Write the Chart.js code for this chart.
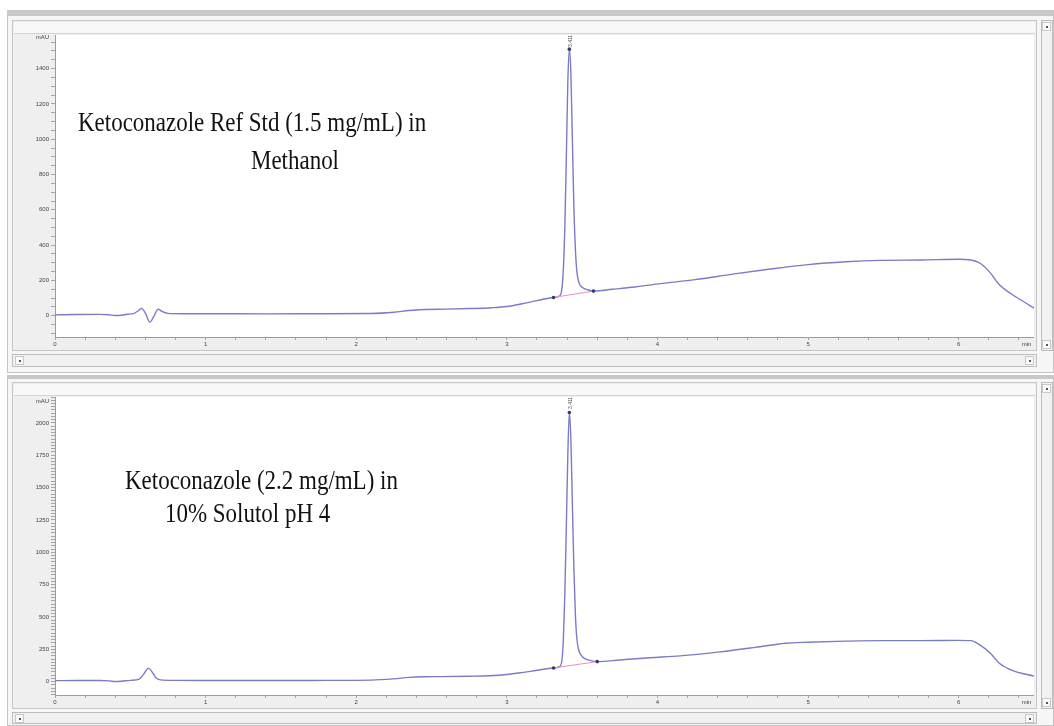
<!DOCTYPE html>
<html>
<head>
<meta charset="utf-8">
<title>Ketoconazole chromatograms</title>
<script src="https://cdn.jsdelivr.net/npm/chart.js@4.4.0/dist/chart.umd.min.js"></script>
<style>
  body { margin: 0; width: 1054px; height: 726px; background: #fff; position: relative; overflow: hidden; }
  .box { position: absolute; box-sizing: border-box; }
  .outer { border: 1px solid #c4c4c4; background: #f6f6f6; }
  .inner { border: 1px solid #c6c6c6; background: #efefef; }
  .header { background: #f8f8f8; border-bottom: 1px solid #d4d4d4; }
  .scroll { border: 1px solid #bdbdbd; background: #f1f1f1; }
  .btn { position: absolute; width: 9px; height: 9px; border: 1px solid #c8c8c8; background: #fafafa; box-sizing: border-box; }
  .btn::after { content: ''; position: absolute; left: 3px; top: 3px; width: 2px; height: 2px; background: #555; }
  .plot { position: absolute; }
  .plot canvas { display: block; }
  .label { position: absolute; font-family: 'Liberation Serif', 'Times New Roman', serif; font-size: 28px; line-height: 28px; color: #111; white-space: nowrap; transform: scaleX(0.82); transform-origin: left top; }
  .rt { position: absolute; font-family: 'Liberation Sans', Arial, sans-serif; font-size: 5px; color: #555; transform: rotate(-90deg); transform-origin: left top; white-space: nowrap; }
</style>
</head>
<body>

<!-- panneau du haut -->
<div class="box outer" style="left:7px; top:10px; width:1047px; height:363px; border-top:6px solid #c8c8c8;"></div>
<div class="box inner" style="left:12px; top:20px; width:1025px; height:331px;"></div>
<div class="box header" style="left:14px; top:22px; width:1021px; height:12px;"></div>
<div class="box scroll" style="left:1041px; top:20px; width:12px; height:331px;">
  <div class="btn" style="left:0px; top:1px;"></div>
  <div class="btn" style="left:0px; top:319px;"></div>
</div>
<div class="box scroll" style="left:12px; top:354px; width:1025px; height:13px;">
  <div class="btn" style="left:2px; top:1px;"></div>
  <div class="btn" style="left:1012px; top:1px;"></div>
</div>
<div class="plot" style="left:15px; top:35px;"><canvas id="chartTop" width="1019" height="313"></canvas></div>

<!-- panneau du bas -->
<div class="box outer" style="left:7px; top:375px; width:1047px; height:351px; border-top:4px solid #c8c8c8;"></div>
<div class="box inner" style="left:12px; top:382px; width:1025px; height:327px;"></div>
<div class="box header" style="left:14px; top:384px; width:1021px; height:12px;"></div>
<div class="box scroll" style="left:1041px; top:382px; width:12px; height:327px;">
  <div class="btn" style="left:0px; top:1px;"></div>
  <div class="btn" style="left:0px; top:315px;"></div>
</div>
<div class="box scroll" style="left:12px; top:712px; width:1025px; height:12px;">
  <div class="btn" style="left:2px; top:1px;"></div>
  <div class="btn" style="left:1012px; top:1px;"></div>
</div>
<div class="plot" style="left:15px; top:397px;"><canvas id="chartBottom" width="1019" height="310"></canvas></div>

<!-- textes -->
<div class="label" style="left:78px; top:108px;">Ketoconazole Ref Std (1.5 mg/mL) in</div>
<div class="label" style="left:251px; top:146px;">Methanol</div>
<div class="label" style="left:125px; top:466px;">Ketoconazole (2.2 mg/mL) in</div>
<div class="label" style="left:165px; top:499px;">10% Solutol pH 4</div>
<div class="rt" style="left:567px; top:47px;">3.411</div>
<div class="rt" style="left:567px; top:409px;">3.411</div>

<script>
// Chromatogramme 1 : étalon de référence dans le méthanol (min, mAU)
const timeTop = [0.00, 0.15, 0.30, 0.36, 0.40, 0.44, 0.48, 0.52, 0.555, 0.575, 0.60, 0.63, 0.655, 0.685, 0.71, 0.75, 0.85,
  1.00, 1.40, 1.80, 2.10, 2.25, 2.35, 2.45, 2.60, 2.75, 2.90, 3.00, 3.10, 3.20, 3.31, 3.35,
  3.365, 3.375, 3.385, 3.395, 3.405, 3.415, 3.425, 3.435, 3.445, 3.455, 3.465, 3.48, 3.50, 3.54, 3.575,
  3.70, 3.85, 4.02, 4.25, 4.50, 4.75, 5.00, 5.25, 5.48, 5.75, 6.00, 6.08, 6.14, 6.21, 6.27, 6.34, 6.41, 6.50];
const signalTop = [5, 7, 8, 6, 2, 3, 9, 12, 30, 42, 15, -36, -5, 38, 25, 14, 12,
  12, 11, 12, 13, 20, 30, 36, 38, 41, 46, 53, 68, 86, 104, 112,
  150, 260, 500, 900, 1330, 1510, 1380, 1000, 620, 380, 250, 185, 162, 146, 140,
  150, 163, 182, 205, 236, 265, 290, 306, 314, 316, 320, 316, 299, 243, 176, 129, 91, 44];
const baseTimeTop = [3.31, 3.575];
const baseSignalTop = [104, 140];
const markTimeTop = [3.31, 3.415, 3.575];
const markSignalTop = [104, 1510, 140];
const yLabelsTop = [0, 200, 400, 600, 800, 1000, 1200, 1400];

// Chromatogramme 2 : 10% Solutol pH 4
const timeBottom = [0.00, 0.15, 0.30, 0.36, 0.40, 0.44, 0.50, 0.56, 0.59, 0.62, 0.645, 0.67, 0.70, 0.80,
  1.00, 1.40, 1.80, 2.10, 2.25, 2.35, 2.45, 2.56, 2.75, 2.89, 3.00, 3.10, 3.20, 3.31, 3.35,
  3.365, 3.375, 3.385, 3.395, 3.405, 3.415, 3.425, 3.435, 3.445, 3.455, 3.465, 3.48, 3.50, 3.54, 3.60,
  3.75, 3.95, 4.15, 4.40, 4.65, 4.85, 5.00, 5.25, 5.48, 5.75, 6.00, 6.08, 6.14, 6.21, 6.27, 6.36, 6.50];
const signalBottom = [8, 9, 9, 6, 1, 3, 10, 20, 60, 105, 75, 30, 14, 10,
  9, 9, 10, 12, 22, 33, 38, 39, 42, 46, 55, 70, 88, 106, 116,
  160, 320, 680, 1200, 1760, 2080, 1880, 1380, 880, 520, 330, 235, 195, 168, 155,
  168, 185, 199, 228, 265, 297, 305, 313, 317, 317, 319, 317, 284, 220, 142, 85, 43];
const baseTimeBottom = [3.31, 3.60];
const baseSignalBottom = [106, 155];
const markTimeBottom = [3.31, 3.415, 3.60];
const markSignalBottom = [106, 2080, 155];
const yLabelsBottom = [0, 250, 500, 750, 1000, 1250, 1500, 1750, 2000];

const xLabels = [0, 1, 2, 3, 4, 5, 6];
const X_UNIT_AT = 6.45;
const FONT = { family: "'Liberation Sans', Arial, sans-serif", size: 6 };
const HIDDEN = 'rgba(0,0,0,0)';

// fond gris autour de la zone de tracé
const panelBackground = {
    id: 'panelBackground',
    beforeDraw(chart) {
        const { ctx, chartArea: a, width, height } = chart;
        ctx.save();
        ctx.fillStyle = '#efefef';
        ctx.fillRect(0, 0, width, height);
        ctx.fillStyle = '#ffffff';
        ctx.fillRect(a.left, a.top, a.right - a.left, a.bottom - a.top);
        ctx.restore();
    }
};

function toPoints(xs, ys) {
    return xs.map((x, i) => ({ x: x, y: ys[i] }));
}

function makeChart(canvasId, p) {
    const canvas = document.getElementById(canvasId);
    return new Chart(canvas, {
        type: 'line',
        data: {
            datasets: [
                {
                    data: toPoints(p.time, p.signal),
                    borderColor: '#7b7bc6',
                    borderWidth: 1.4,
                    pointRadius: 0,
                    cubicInterpolationMode: 'monotone',
                    order: 2
                },
                {
                    data: toPoints(p.baseTime, p.baseSignal),
                    borderColor: '#e690cb',
                    borderWidth: 1,
                    pointRadius: 0,
                    order: 1
                },
                {
                    data: toPoints(p.markTime, p.markSignal),
                    showLine: false,
                    pointRadius: 1.8,
                    pointBackgroundColor: '#35356a',
                    pointBorderWidth: 0,
                    order: 0
                }
            ]
        },
        options: {
            responsive: false,
            animation: false,
            layout: { padding: 0, autoPadding: false },
            plugins: { legend: { display: false }, tooltip: { enabled: false } },
            scales: {
                x: {
                    type: 'linear',
                    min: 0,
                    max: 6.5,
                    afterFit: s => {
                        s.height = p.xAxisHeight;
                        s.paddingLeft = 0;
                        s.paddingRight = 0;
                    },
                    afterBuildTicks: s => { s.ticks.push({ value: X_UNIT_AT }); },
                    border: { color: '#9c9c9c', width: 1 },
                    grid: {
                        drawOnChartArea: false,
                        tickLength: 3,
                        tickColor: c => (c.tick && c.tick.value === X_UNIT_AT) ? HIDDEN : '#a4a4a4'
                    },
                    ticks: {
                        stepSize: 0.2,
                        includeBounds: false,
                        autoSkip: false,
                        maxRotation: 0,
                        padding: 1,
                        color: '#444',
                        font: FONT,
                        callback: v => {
                            if (v === X_UNIT_AT) return 'min';
                            const r = Math.round(v);
                            return (Math.abs(v - r) < 1e-6 && xLabels.includes(r)) ? String(r) : '';
                        }
                    }
                },
                y: {
                    type: 'linear',
                    min: p.yMin,
                    max: p.yMax,
                    afterFit: s => {
                        s.width = 40;
                        s.paddingTop = 0;
                        s.paddingBottom = 0;
                    },
                    afterBuildTicks: s => {
                        s.ticks.push({ value: p.unitAt });
                        s.ticks.sort((a, b) => a.value - b.value);
                    },
                    border: { color: '#9c9c9c', width: 1 },
                    grid: {
                        drawOnChartArea: false,
                        tickLength: 4,
                        tickColor: c => (c.tick && c.tick.value === p.unitAt) ? HIDDEN : '#a4a4a4'
                    },
                    ticks: {
                        stepSize: p.yStep,
                        includeBounds: false,
                        autoSkip: false,
                        padding: 2,
                        color: '#444',
                        font: FONT,
                        callback: v => {
                            if (v === p.unitAt) return 'mAU';
                            return p.yLabels.includes(v) ? String(v) : '';
                        }
                    }
                }
            }
        },
        plugins: [panelBackground]
    });
}

makeChart('chartTop', {
    time: timeTop, signal: signalTop,
    baseTime: baseTimeTop, baseSignal: baseSignalTop,
    markTime: markTimeTop, markSignal: markSignalTop,
    yLabels: yLabelsTop, yMin: -120, yMax: 1590, yStep: 50, unitAt: 1575,
    xAxisHeight: 11
});

makeChart('chartBottom', {
    time: timeBottom, signal: signalBottom,
    baseTime: baseTimeBottom, baseSignal: baseSignalBottom,
    markTime: markTimeBottom, markSignal: markSignalBottom,
    yLabels: yLabelsBottom, yMin: -103, yMax: 2200, yStep: 25, unitAt: 2165,
    xAxisHeight: 12
});
</script>
</body>
</html>
